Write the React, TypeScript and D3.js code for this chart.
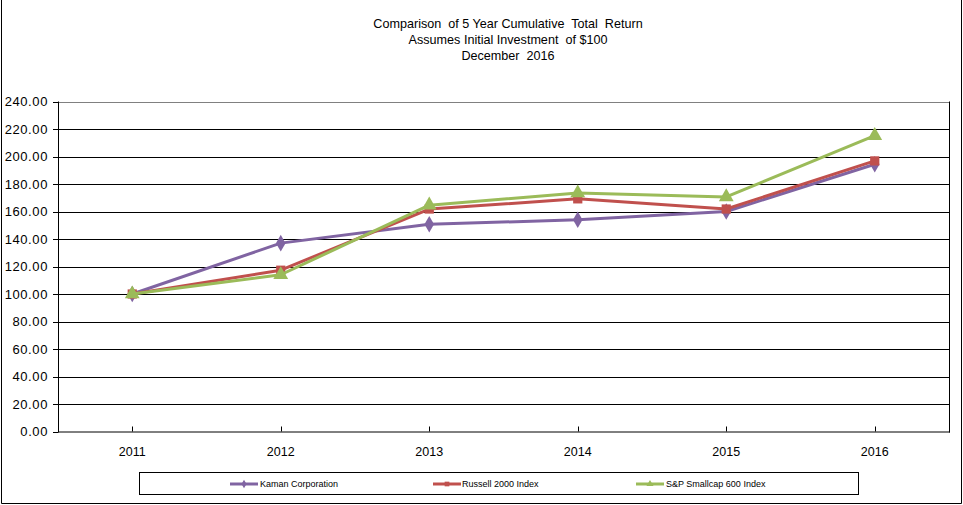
import React from "react";
import * as d3 from "d3";

const years = ["2011", "2012", "2013", "2014", "2015", "2016"];
const kaman = [100, 137.0, 150.7, 154.0, 160.0, 194.4];
const russell = [100, 117.3, 161.8, 169.2, 161.8, 196.8];
const sp600 = [100, 114.0, 164.6, 173.4, 170.6, 215.2];
const yTicks = [0, 20, 40, 60, 80, 100, 120, 140, 160, 180, 200, 220, 240];
const titleLines = [
  "Comparison  of 5 Year Cumulative  Total  Return",
  "Assumes Initial Investment  of $100",
  "December  2016",
];

const seriesNames = ["Kaman Corporation", "Russell 2000 Index", "S&P Smallcap 600 Index"];
const seriesColors = ["#8064A2", "#C0504D", "#9BBB59"];
const seriesMarkers = ["diamond", "square", "triangle"];
const seriesData = [kaman, russell, sp600];

const W = 963;
const H = 505;
const plot = { left: 58, right: 949, top: 101.5, bottom: 431.5 };
const font = "Arial, 'Liberation Sans', sans-serif";

function markerPath(kind: string, size: number) {
  const sym =
    kind === "diamond" ? d3.symbolDiamond : kind === "square" ? d3.symbolSquare : d3.symbolTriangle;
  return d3.symbol().type(sym).size(size)() as string;
}

export default function App() {
  const x = d3.scalePoint<string>().domain(years).range([plot.left, plot.right]).padding(0.5);
  const y = d3.scaleLinear().domain([0, 240]).range([plot.bottom, plot.top]);
  const line = d3
    .line<number>()
    .x((_, i) => x(years[i]) as number)
    .y((d) => y(d));

  const legendItems = [
    { sx: 230, tx: 260 },
    { sx: 433, tx: 462 },
    { sx: 636, tx: 666 },
  ];
  const markerSize: Record<string, number> = { diamond: 80, square: 85, triangle: 95 };

  return (
    <svg
      width={W}
      height={H}
      style={{ position: "absolute", left: 0, top: 0, background: "#fff" }}
      fontFamily={font}
    >
      <rect x={0} y={0} width={W} height={H} fill="#fff" />
      {/* outer chart border */}
      <line x1={1.5} y1={0} x2={1.5} y2={503.5} stroke="#000" strokeWidth={1} />
      <line x1={1.5} y1={503.5} x2={961.5} y2={503.5} stroke="#000" strokeWidth={1} />
      <line x1={961.5} y1={0} x2={961.5} y2={503.5} stroke="#000" strokeWidth={1} />

      {/* title */}
      {titleLines.map((t, i) => (
        <text
          key={i}
          x={508}
          y={28 + i * 16}
          textAnchor="middle"
          fontSize={12.6}
          fill="#000"
          style={{ whiteSpace: "pre" }}
        >
          {t}
        </text>
      ))}

      {/* gridlines + y axis */}
      {yTicks.map((t) => (
        <g key={t}>
          {t > 0 && (
            <line
              x1={plot.left}
              x2={plot.right}
              y1={Math.round(y(t)) + 0.5}
              y2={Math.round(y(t)) + 0.5}
              stroke={t === 240 ? "#808080" : "#000"}
              strokeWidth={1}
            />
          )}
          <line
            x1={plot.left - 5}
            x2={plot.left}
            y1={Math.round(y(t)) + 0.5}
            y2={Math.round(y(t)) + 0.5}
            stroke="#000"
          />
          <text
            x={48}
            y={y(t)}
            dy="0.35em"
            textAnchor="end"
            fontSize={13}
            letterSpacing={0.6}
            fill="#000"
          >
            {t.toFixed(2)}
          </text>
        </g>
      ))}
      <line x1={plot.left + 0.5} x2={plot.left + 0.5} y1={plot.top} y2={plot.bottom + 1} stroke="#000" />
      <line x1={plot.right + 0.5} x2={plot.right + 0.5} y1={plot.top} y2={plot.bottom + 1} stroke="#000" />
      <line x1={plot.left} x2={plot.right + 1} y1={plot.bottom + 0.5} y2={plot.bottom + 0.5} stroke="#000" />

      {/* x axis */}
      {years.map((yr) => (
        <g key={yr}>
          <line
            x1={Math.round(x(yr) as number) + 0.5}
            x2={Math.round(x(yr) as number) + 0.5}
            y1={plot.bottom - 5}
            y2={plot.bottom}
            stroke="#000"
          />
          <text x={x(yr) as number} y={452} dy="0.35em" textAnchor="middle" fontSize={12.5} fill="#000">
            {yr}
          </text>
        </g>
      ))}

      {/* series */}
      {seriesData.map((data, si) => (
        <g key={si}>
          <path d={line(data) as string} fill="none" stroke={seriesColors[si]} strokeWidth={3} strokeLinejoin="round" />
          {data.map((v, i) => (
            <path
              key={i}
              d={markerPath(seriesMarkers[si], markerSize[seriesMarkers[si]])}
              transform={`translate(${x(years[i])},${y(v)})`}
              fill={seriesColors[si]}
            />
          ))}
        </g>
      ))}

      {/* legend */}
      <rect x={139.5} y={472.5} width={719} height={22} fill="#fff" stroke="#000" strokeWidth={1} />
      {seriesNames.map((name, si) => (
        <g key={name}>
          <line
            x1={legendItems[si].sx}
            x2={legendItems[si].sx + 28}
            y1={484}
            y2={484}
            stroke={seriesColors[si]}
            strokeWidth={3}
          />
          <path
            d={markerPath(seriesMarkers[si], 22)}
            transform={`translate(${legendItems[si].sx + 14},484)`}
            fill={seriesColors[si]}
          />
          <text x={legendItems[si].tx} y={484} dy="0.35em" fontSize={9} fill="#000">
            {name}
          </text>
        </g>
      ))}
    </svg>
  );
}
